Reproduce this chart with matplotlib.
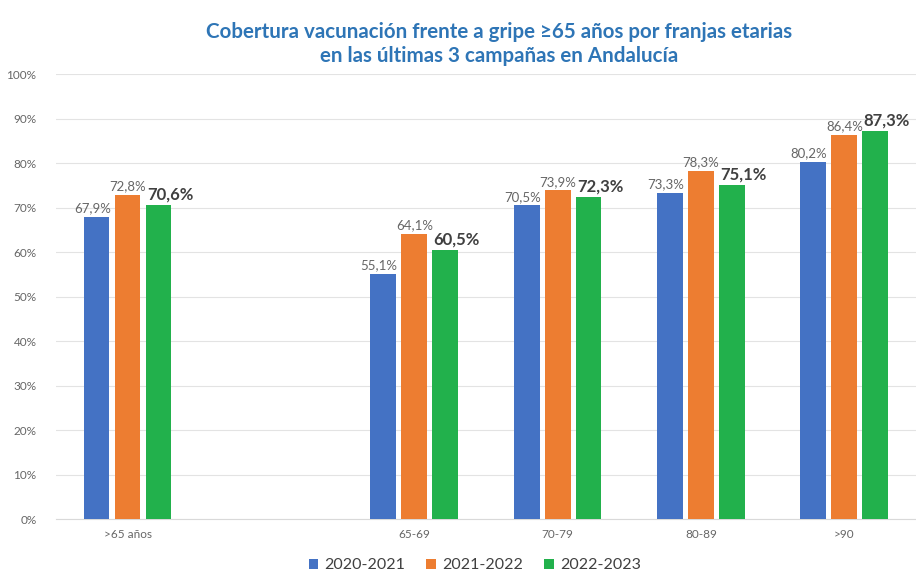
import numpy as np
import matplotlib.pyplot as plt
from matplotlib.ticker import FuncFormatter

categories = ['>65 años', '', '65-69', '70-79', '80-89', '>90']
campaigns = ['2020-2021', '2021-2022', '2022-2023']
v2020 = [67.9, None, 55.1, 70.5, 73.3, 80.2]
v2021 = [72.8, None, 64.1, 73.9, 78.3, 86.4]
v2022 = [70.6, None, 60.5, 72.3, 75.1, 87.3]
colors = ['#4472C4', '#ED7D31', '#22B14C']

plt.rcParams['font.family'] = ['Lato', 'DejaVu Sans']

fig = plt.figure(figsize=(9.16, 5.75), dpi=100)
ax = fig.add_axes([0.061, 0.097, 0.939, 0.774])

x = np.arange(len(categories))
width = 0.18
step = 0.216
series = [v2020, v2021, v2022]
for i, (vals, col, name) in enumerate(zip(series, colors, campaigns)):
    xs = [xi + (i - 1) * step for xi, v in zip(x, vals) if v is not None]
    ys = [v for v in vals if v is not None]
    ax.bar(xs, ys, width=width, color=col, label=name, zorder=3)
    for xx, yy in zip(xs, ys):
        lbl = '{:.1f}%'.format(yy).replace('.', ',')
        if i == 2:
            ax.text(xx + 0.08, yy + 0.6, lbl, ha='center', va='bottom',
                    fontsize=12, fontweight='bold', color='#404040')
        elif i == 0:
            ax.text(xx - 0.03, yy + 0.6, lbl, ha='center', va='bottom',
                    fontsize=9.5, color='#666666')
        else:
            ax.text(xx, yy + 0.6, lbl, ha='center', va='bottom',
                    fontsize=9.5, color='#666666')

ax.set_xlim(-0.5, len(categories) - 0.5)
ax.set_ylim(0, 100)
ax.set_yticks(np.arange(0, 101, 10))
ax.yaxis.set_major_formatter(FuncFormatter(lambda v, p: '{:.0f}%'.format(v)))
ax.set_xticks(x)
ax.set_xticklabels(categories)
ax.tick_params(axis='both', length=0, labelsize=8.5, labelcolor='#666666')
ax.tick_params(axis='x', pad=7)
ax.tick_params(axis='y', pad=14)
ax.grid(axis='y', color='#E3E3E3', linewidth=0.8, zorder=0)
for s in ['top', 'right', 'left']:
    ax.spines[s].set_visible(False)
ax.spines['bottom'].set_color('#D9D9D9')

fig.text(0.545, 0.924, 'Cobertura vacunación frente a gripe ≥65 años por franjas etarias\nen las últimas 3 campañas en Andalucía',
         ha='center', va='center', fontsize=14.8, fontweight='bold', color='#2E75B6',
         linespacing=1.25)

ax.legend(loc='lower center', bbox_to_anchor=(0.487, -0.152), ncol=3, frameon=False,
          fontsize=11.5, labelcolor='#404040', handlelength=0.6, handleheight=0.6,
          columnspacing=1.3, handletextpad=0.4)

fig.savefig('out.png', dpi=100)
